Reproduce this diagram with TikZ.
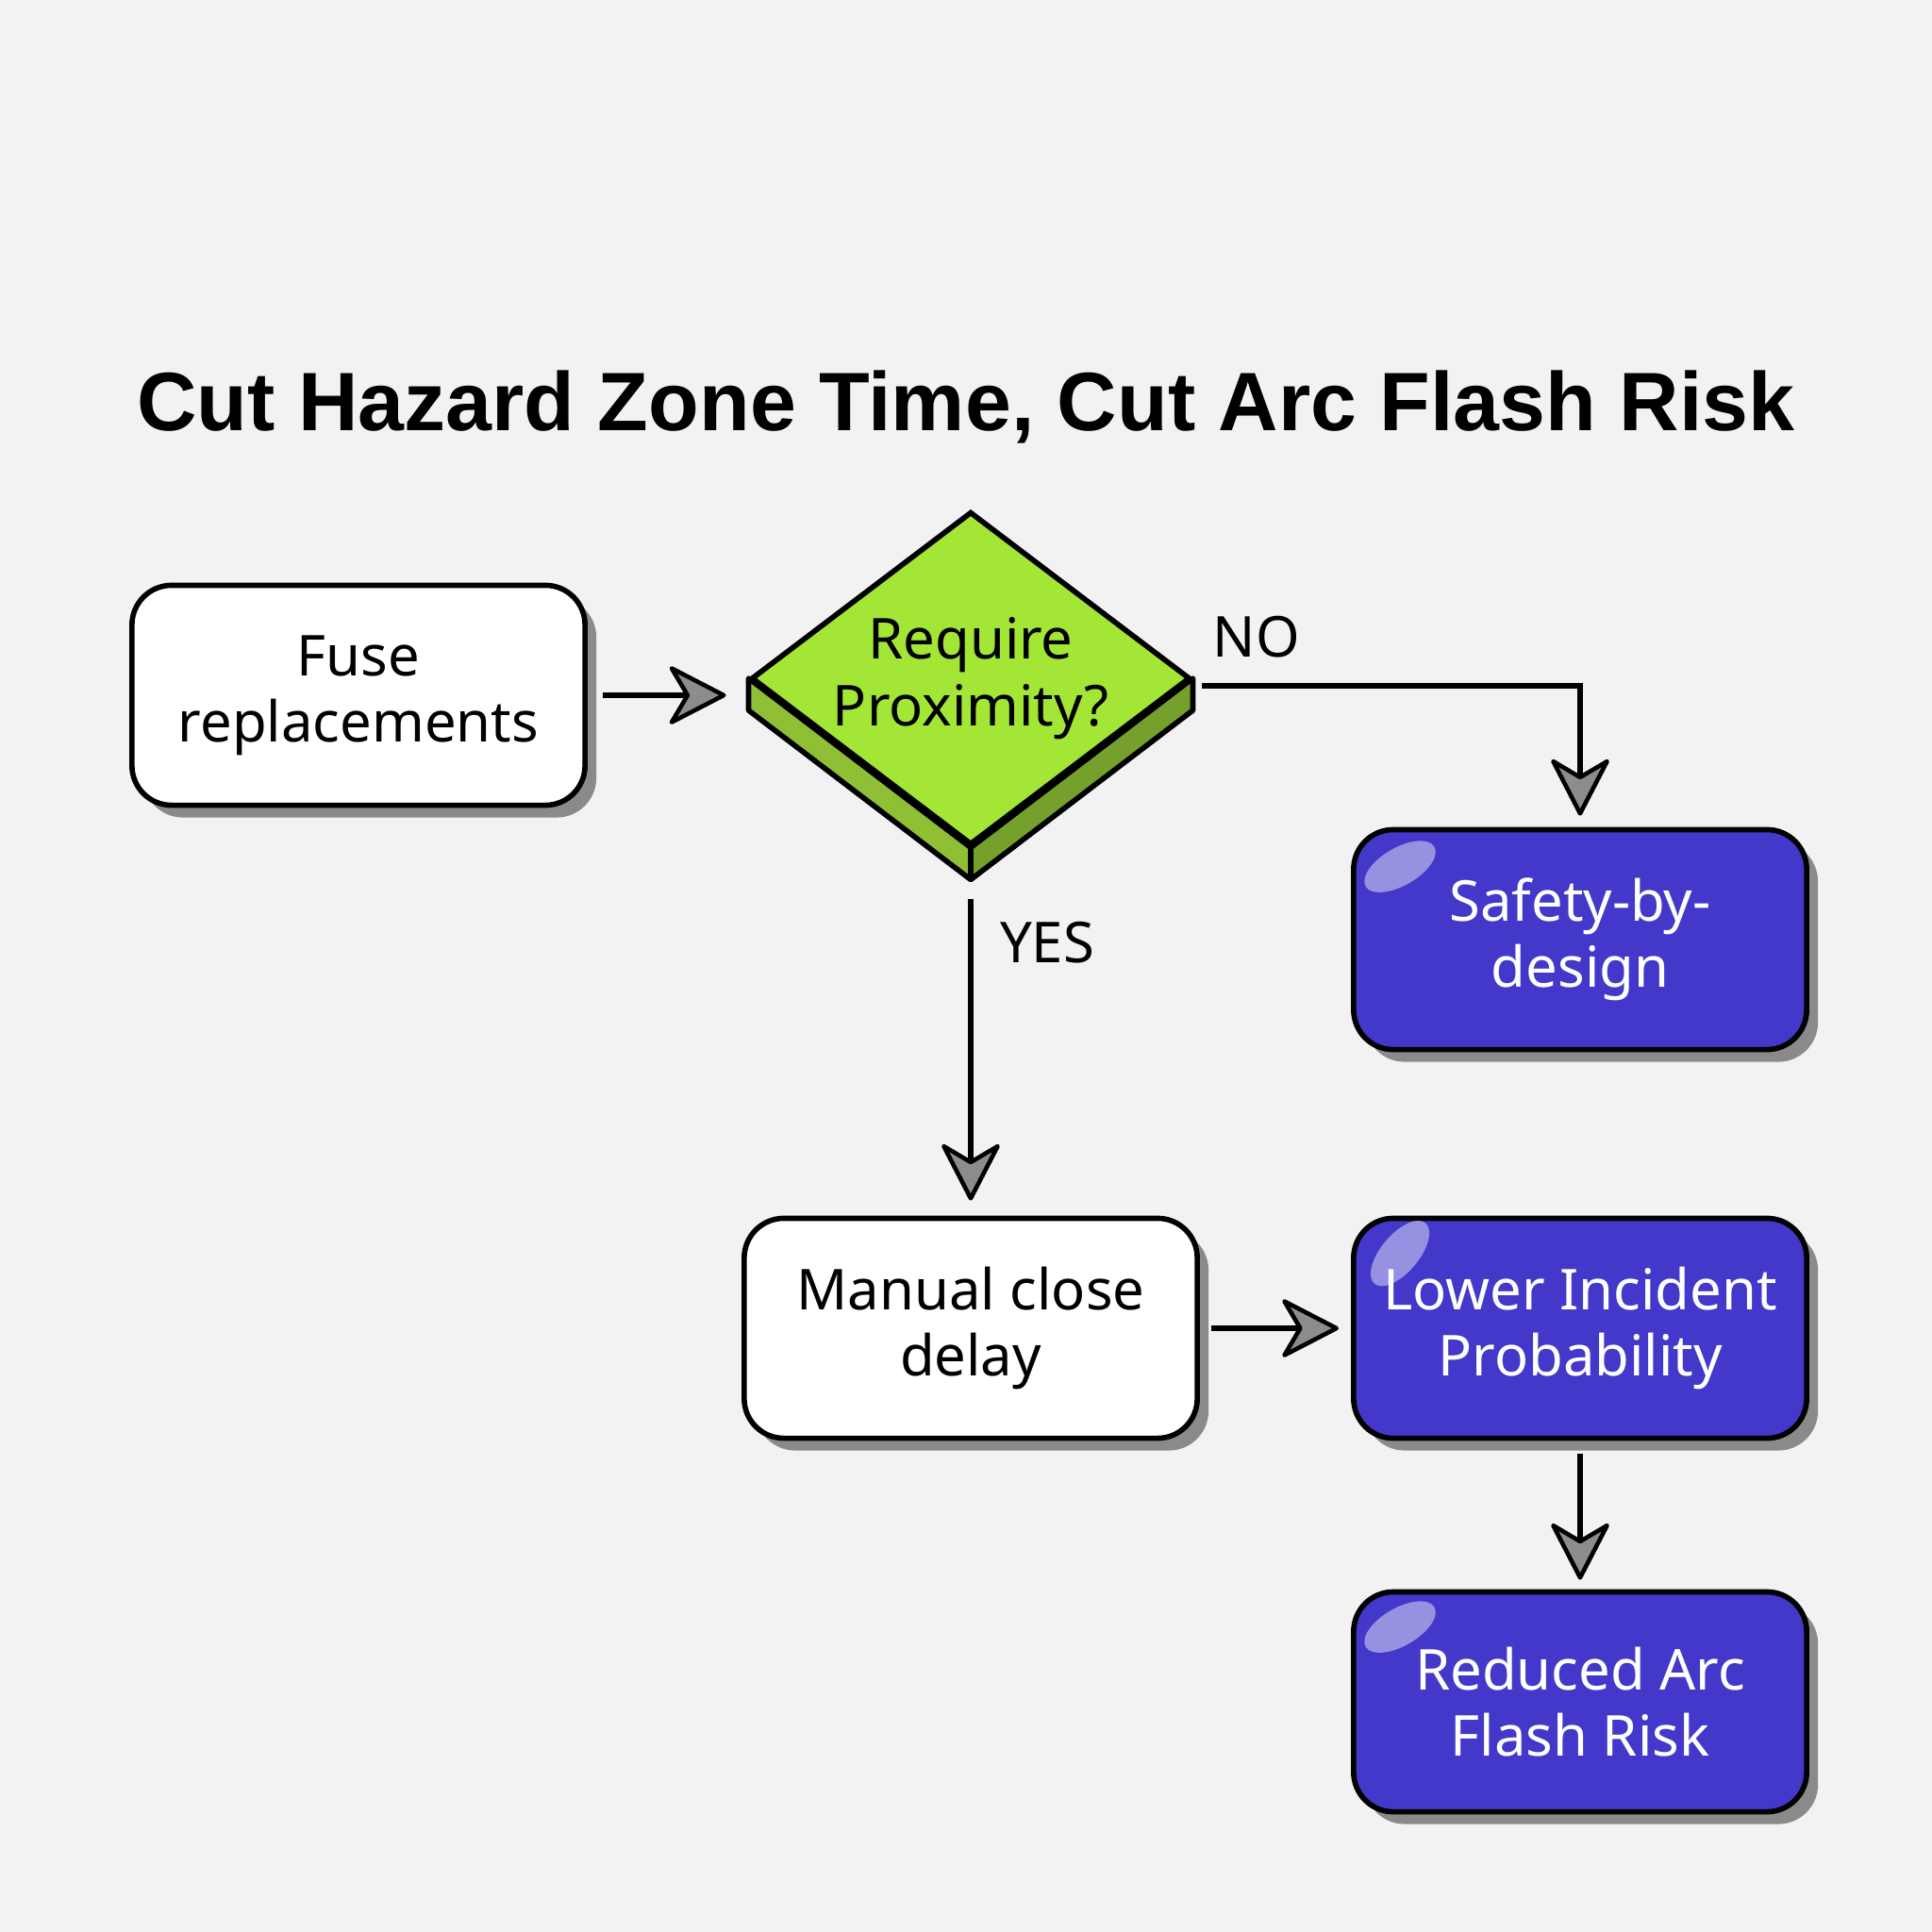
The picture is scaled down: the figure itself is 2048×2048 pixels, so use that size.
\documentclass[tikz,border=0pt]{standalone}
\usepackage{fontspec}
\setmainfont{Noto Sans}
\newfontfamily\headfont{Liberation Sans}
\usetikzlibrary{arrows.meta,calc,positioning,shapes.geometric,shadows}
\definecolor{paper}{HTML}{F2F2F2}
\definecolor{indigo}{HTML}{4338CA}
\definecolor{lime}{HTML}{A3E635}
\definecolor{limeleft}{HTML}{8FBF34}
\definecolor{limeright}{HTML}{76A02C}
\definecolor{shade}{HTML}{8A8A8A}
\definecolor{tipgray}{HTML}{8C8C8C}

\tikzset{
  card/.style={draw=black,line width=1.6pt,rounded corners=0.42cm,minimum width=4.8cm,minimum height=2.33cm,align=center,font=\fontsize{17}{20}\selectfont,drop shadow={shadow xshift=0.12cm,shadow yshift=-0.13cm,fill=shade,opacity=1}},
  plain/.style={card,fill=white},
  result/.style={card,fill=indigo,text=white},
  gloss/.style={fill=white,opacity=0.45},
  flow/.style={draw=black,line width=1.8pt,-{Stealth[length=0.66cm,width=0.68cm,inset=0.2cm,fill=tipgray,line width=1.3pt,round]}},
  tag/.style={font=\fontsize{17}{20}\selectfont}
}

\begin{document}
\begin{tikzpicture}[x=0.01cm,y=-0.01cm]
\fill[paper] (0,0) rectangle (2048,2048);
\node[font=\headfont\bfseries\fontsize{25}{30}\selectfont] (title) at (1024,431) {Cut Hazard Zone Time, Cut Arc Flash Risk};

\node[plain] (fuse) at (380,737) {Fuse\\replacements};
\node[diamond,aspect=1.32,draw=black,line width=1.6pt,fill=lime,minimum width=4.65cm,minimum height=3.53cm,inner sep=0pt,align=center,font=\fontsize{17}{20}\selectfont] (dec) at (1029,719) {Require\\Proximity?};
\filldraw[fill=limeleft,line width=1.6pt,line join=round] (dec.west) -- (dec.south) -- ++(0,34) -- ($(dec.west)+(0,34)$) -- cycle;
\filldraw[fill=limeright,line width=1.6pt,line join=round] (dec.south) -- (dec.east) -- ++(0,34) -- ($(dec.south)+(0,34)$) -- cycle;

\node[result] (safe) at (1675,996) {Safety-by-\\design};
\node[plain] (manual) at (1029,1408) {Manual close\\delay};
\node[result] (lower) at (1675,1408) {Lower Incident\\Probability};
\node[result] (reduced) at (1675,1804) {Reduced Arc\\Flash Risk};

\fill[gloss] ($(safe.north west)+(52,42)$) ellipse[x radius=0.42cm,y radius=0.2cm,rotate=30];
\fill[gloss] ($(lower.north west)+(52,40)$) ellipse[x radius=0.42cm,y radius=0.2cm,rotate=50];
\fill[gloss] ($(reduced.north west)+(52,40)$) ellipse[x radius=0.42cm,y radius=0.2cm,rotate=30];

\draw[flow,shorten <=0.16cm,shorten >=0.24cm] (fuse.east) -- (fuse.east -| dec.west);
\draw[flow,shorten <=0.1cm,shorten >=0.12cm] ([yshift=-0.08cm]dec.east) -| (safe.north);
\draw[flow,shorten <=0.55cm,shorten >=0.16cm] (dec.south) -- (manual.north);
\draw[flow,shorten <=0.12cm,shorten >=0.13cm] (manual.east) -- (lower.west);
\draw[flow,shorten <=0.14cm,shorten >=0.1cm] (lower.south) -- (reduced.north);

\node[tag] (no) at (1332,675) {NO};
\node[tag] (yes) at (1110,999) {YES};
\end{tikzpicture}
\end{document}
